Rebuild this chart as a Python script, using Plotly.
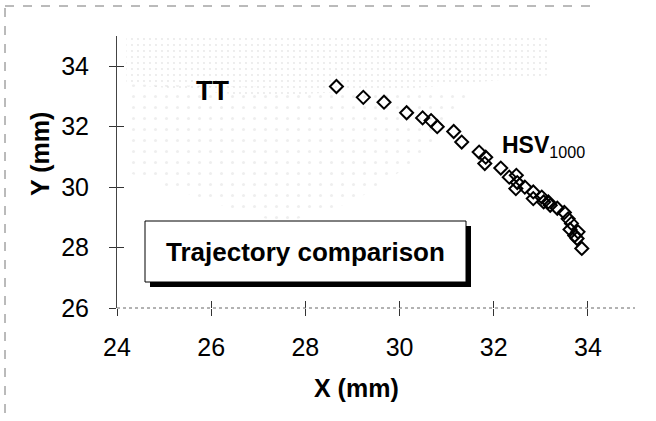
import plotly.graph_objects as go

# ---- data ----
hsv_x = [28.66, 29.23, 29.67, 30.15, 30.49, 30.67, 30.80, 31.15, 31.32, 31.69,
         31.83, 31.81, 32.15, 32.33, 32.48, 32.50, 32.47, 32.66, 32.84, 32.84,
         33.02, 33.16, 33.20, 33.06, 33.35, 33.50, 33.58, 33.65, 33.62, 33.79,
         33.72, 33.77, 33.87]
hsv_y = [33.33, 32.97, 32.81, 32.46, 32.29, 32.20, 32.00, 31.84, 31.49, 31.16,
         30.99, 30.78, 30.63, 30.33, 30.39, 30.15, 29.95, 30.00, 29.84, 29.62,
         29.67, 29.51, 29.40, 29.51, 29.30, 29.16, 28.95, 28.80, 28.60, 28.52,
         28.40, 28.30, 27.97]
x_ticks = [24, 26, 28, 30, 32, 34]
y_ticks = [26, 28, 30, 32, 34]
x_range = [24, 35]
y_range = [26, 35]

# TT stippled region outlines (background texture)
tt_dense_x = [24.2, 33.2, 33.2, 30.5, 27.0, 24.2]
tt_dense_y = [34.95, 34.95, 33.7, 33.3, 33.0, 33.4]
tt_sparse_x = [24.2, 31.5, 30.5, 29.0, 27.5, 26.0, 24.2]
tt_sparse_y = [33.4, 33.2, 31.0, 29.5, 28.8, 29.5, 30.5]

W, H = 656, 421
L, R, T, B = 117, 21, 36, 113
pw, ph = W - L - R, H - T - B


def px(xp):
    return (xp - L) / pw


def py(yp):
    return (H - B - yp) / ph


fig = go.Figure()

fig.add_trace(go.Scatter(x=tt_sparse_x, y=tt_sparse_y, fill="toself", mode="none",
                         fillcolor="rgba(0,0,0,0)",
                         fillpattern=dict(shape=".", fgcolor="#dddddd", bgcolor="rgba(0,0,0,0)",
                                          size=11, solidity=0.06),
                         hoverinfo="skip", showlegend=False))
fig.add_trace(go.Scatter(x=tt_dense_x, y=tt_dense_y, fill="toself", mode="none",
                         fillcolor="rgba(0,0,0,0)",
                         fillpattern=dict(shape=".", fgcolor="#d0d0d0", bgcolor="rgba(0,0,0,0)",
                                          size=6, solidity=0.08),
                         hoverinfo="skip", showlegend=False))

fig.add_trace(go.Scatter(x=hsv_x, y=hsv_y, mode="markers",
                         marker=dict(symbol="diamond-open", size=10, color="black",
                                     line=dict(width=2, color="black")),
                         showlegend=False))

tickfont = dict(family="Liberation Sans, Arial", size=25, color="black")
fig.update_layout(
    width=W, height=H,
    margin=dict(l=L, r=R, t=T, b=B),
    paper_bgcolor="white", plot_bgcolor="white",
    xaxis=dict(range=x_range, tickvals=x_ticks, ticks="outside", ticklen=7,
               tickcolor="#333", showgrid=False, zeroline=False, showline=False,
               tickfont=tickfont, ticklabelstandoff=10),
    yaxis=dict(range=y_range, tickvals=y_ticks, ticks="outside", ticklen=7,
               tickcolor="#333", showgrid=False, zeroline=False, showline=True,
               linecolor="#444", linewidth=1, tickfont=tickfont, ticklabelstandoff=15),
    xaxis2=dict(range=x_range, tickvals=x_ticks, overlaying="x", ticks="inside",
                ticklen=7, tickcolor="#333", showticklabels=False, showgrid=False,
                zeroline=False, side="bottom"),
    yaxis2=dict(range=y_range, tickvals=y_ticks, overlaying="y", ticks="inside",
                ticklen=7, tickcolor="#333", showticklabels=False, showgrid=False,
                zeroline=False, side="left"),
)
# dummy trace to activate overlay axes
fig.add_trace(go.Scatter(x=[None], y=[None], xaxis="x2", yaxis="y2", showlegend=False))

shapes = [
    # bottom axis line (dotted in the scan)
    dict(type="line", xref="paper", yref="paper", x0=0, x1=1, y0=0, y1=0,
         line=dict(color="#666", width=1, dash="dot")),
    # page border
    dict(type="line", xref="paper", yref="paper", x0=px(5), x1=px(5), y0=py(8), y1=py(421),
         line=dict(color="#777", width=1, dash="dash")),
    dict(type="line", xref="paper", yref="paper", x0=px(5), x1=px(598), y0=py(6), y1=py(6),
         line=dict(color="#777", width=1, dash="dash")),
    # box shadow and box
    dict(type="rect", xref="paper", yref="paper", x0=px(150), x1=px(471), y0=py(287), y1=py(226),
         fillcolor="black", line=dict(width=0)),
    dict(type="rect", xref="paper", yref="paper", x0=px(145), x1=px(466), y0=py(282), y1=py(221),
         fillcolor="white", line=dict(color="black", width=1)),
]
fig.update_layout(shapes=shapes)

bold = dict(family="Liberation Sans, Arial", color="black")
ann = [
    dict(text="<b>Trajectory comparison</b>", x=px(305), y=py(252), font=dict(size=26, **bold)),
    dict(text="<b>TT</b>", x=px(212), y=py(91), font=dict(size=27, **bold)),
    dict(text="<b>HSV</b><sub>1000</sub>", x=px(500), y=py(146), xanchor="left",
         font=dict(size=23, **bold)),
    dict(text="<b>X (mm)</b>", x=px(356), y=py(388), font=dict(size=25, **bold)),
    dict(text="<b>Y (mm)</b>", x=px(40), y=py(154), textangle=-90, font=dict(size=25, **bold)),
]
for a in ann:
    a.update(xref="paper", yref="paper", showarrow=False)
    a.setdefault("xanchor", "center")
    a.setdefault("yanchor", "middle")
fig.update_layout(annotations=ann)

fig.write_html("out.html", config={"displayModeBar": False},
               post_script="document.body.style.margin='0';document.body.style.overflow='hidden';")
